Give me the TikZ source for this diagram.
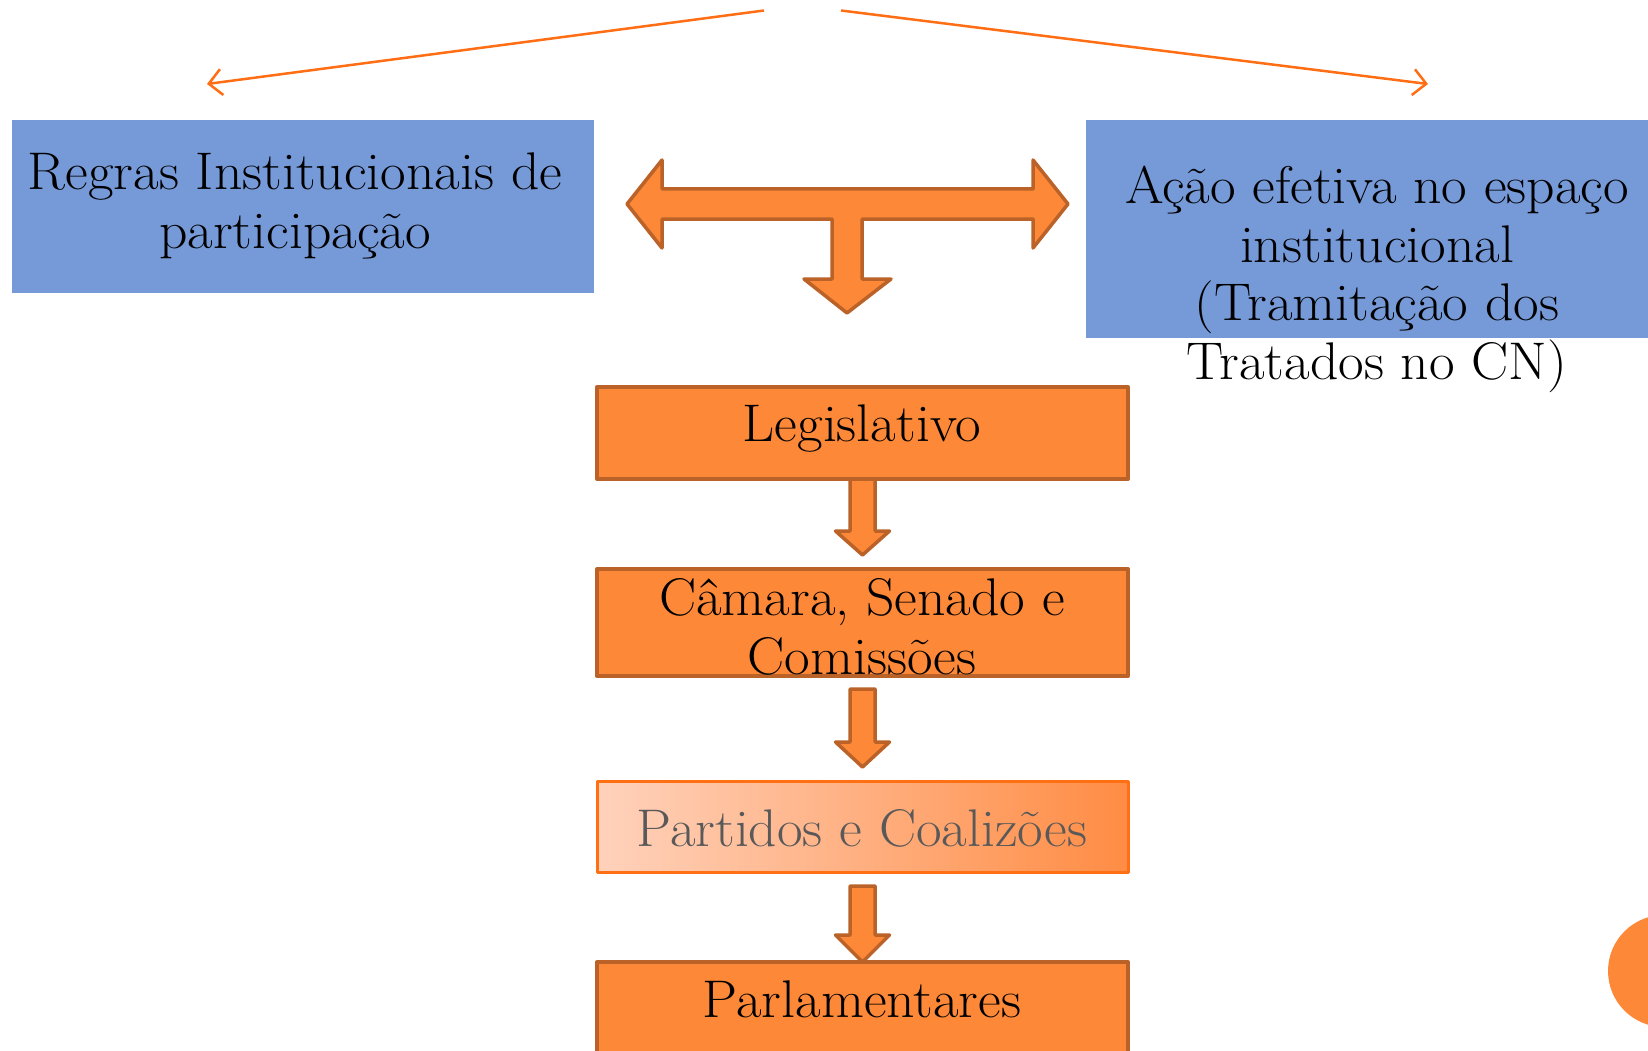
\documentclass[tikz,border=0pt]{standalone}
\usepackage{fontspec}
\setmainfont{Latin Modern Roman}[FakeStretch=1.05]
\usepackage{xcolor}
\usepackage{tikz}
\usetikzlibrary{arrows.meta,calc}

\definecolor{boxorange}{RGB}{253,136,56}
\definecolor{boxedge}{RGB}{186,98,40}
\definecolor{boxblue}{RGB}{118,153,216}
\definecolor{lineorange}{RGB}{255,110,20}
\definecolor{partlight}{RGB}{255,210,188}
\definecolor{partdark}{RGB}{255,140,68}
\definecolor{partedge}{RGB}{255,112,20}
\definecolor{greytext}{RGB}{89,89,89}

\begin{document}
\begin{tikzpicture}[x=1pt,y=-1pt,
    txt/.style={inner sep=0, align=center, font=\fontsize{53}{58.5}\selectfont},
    bluebox/.style={fill=boxblue, inner sep=0, outer sep=0},
    orangebox/.style={fill=boxorange, draw=boxedge, line width=4pt, inner sep=0, outer sep=0, minimum width=531, line join=round},
    blockarr/.style={fill=boxorange, draw=boxedge, line width=3.5pt, line join=round},
    thinarr/.style={draw=lineorange, line width=2.5pt, -{Straight Barb[length=13pt,width=26pt,line width=2.5pt]}}]
      \useasboundingbox (0,0) rectangle (1648,1051);
      % top arrows
      \coordinate (topl) at (764,10.5);
      \coordinate (topr) at (841,10.5);
      \coordinate (tipl) at (207,84);
      \coordinate (tipr) at (1428,84);
      \draw[thinarr] (topl) -- (tipl);
      \draw[thinarr] (topr) -- (tipr);
      % blue boxes
      \node[bluebox, minimum width=582, minimum height=173] (regras) at (303,206.5) {};
      \node[bluebox, minimum width=574, minimum height=218] (acao) at (1373,229) {};
      \node[txt, anchor=base] (regrastxt) at (295,248) {Regras Institucionais de\\participação};
      \node[txt, anchor=base] (acaotxt) at (1377,379) {Ação efetiva no espaço\\institucional\\(Tramitação dos\\Tratados no CN)};
      % T arrow
      \draw[blockarr] (627,204) -- (662,160) -- (662,189) -- (1033,189) -- (1033,160) -- (1068,204)
        -- (1033,248) -- (1033,219) -- (862,219) -- (862,279) -- (891,279) -- (847,313) -- (804,279)
        -- (832,279) -- (832,219) -- (662,219) -- (662,248) -- cycle;
      % orange boxes
      \node[orangebox, minimum height=92] (leg) at (862.5,433) {};
      \node[orangebox, minimum height=107] (cam) at (862.5,622.5) {};
      \node[orangebox, minimum height=91, left color=partlight, right color=partdark, draw=partedge, line width=3pt] (part) at (862.5,826.5) {};
      \node[orangebox, minimum height=96] (parl) at (862.5,1010) {};
      \node[txt, anchor=base] (legtxt) at (862,441) {Legislativo};
      \node[txt, anchor=base] (camtxt) at (862,674) {Câmara, Senado e\\Comissões};
      \node[txt, anchor=base, text=greytext] (parttxt) at (862,846) {Partidos e Coalizões};
      \node[txt, anchor=base] (parltxt) at (862,1017) {Parlamentares};
      % down arrows
      \draw[blockarr] ($(leg.south)+(-12.5,0)$) -- ++(0,52) -- ++(-14.5,0) -- ++(27,24) -- ++(27,-24) -- ++(-14.5,0) -- ++(0,-52) -- cycle;
      \draw[blockarr] ($(cam.south)+(-12.5,13)$) -- ++(0,53) -- ++(-14.5,0) -- ++(27,25) -- ++(27,-25) -- ++(-14.5,0) -- ++(0,-53) -- cycle;
      \draw[blockarr] ($(part.south)+(-12.5,14)$) -- ++(0,49) -- ++(-14.5,0) -- ++(27,27) -- ++(27,-27) -- ++(-14.5,0) -- ++(0,-49) -- cycle;
      % corner disc
      \fill[boxorange] (1664,971) circle (56);
    \end{tikzpicture}
\end{document}
